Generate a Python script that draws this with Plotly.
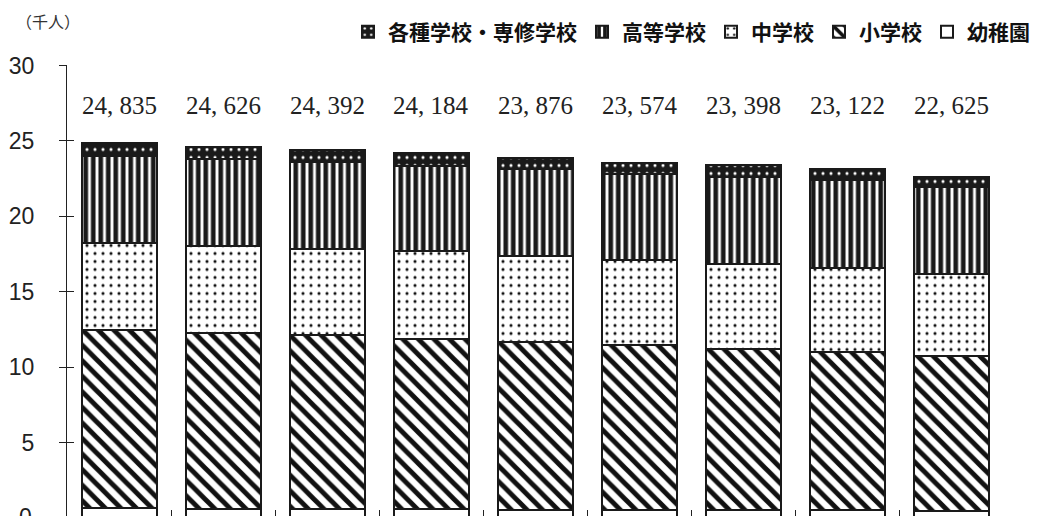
import plotly.graph_objects as go

# 9 categories (axis labels are cut off in the source, so hidden here)
categories = ["c1", "c2", "c3", "c4", "c5", "c6", "c7", "c8", "c9"]
totals = [24835, 24626, 24392, 24184, 23876, 23574, 23398, 23122, 22625]

# segment values (same unit as the y axis)
youchien = [0.65, 0.64, 0.62, 0.61, 0.58, 0.56, 0.54, 0.52, 0.50]
shogakko = [11.84, 11.65, 11.50, 11.25, 11.10, 10.91, 10.67, 10.51, 10.25]
chugakko = [5.75, 5.73, 5.72, 5.83, 5.72, 5.63, 5.65, 5.52, 5.46]
kotogakko = [5.78, 5.79, 5.75, 5.68, 5.75, 5.72, 5.75, 5.84, 5.74]
kakushu = [0.815, 0.816, 0.80, 0.81, 0.73, 0.75, 0.79, 0.73, 0.675]

y_ticks = [0, 5, 10, 15, 20, 25, 30]

# the page body adds an 8px margin, so the figure is 8px smaller than the window
W, H = 1031, 508
ML, MR, MT = 59, 35, 53
PW, PH = W - ML - MR, H - MT

line = dict(color="#1a1a1a", width=2)
tick_font = dict(family="Liberation Sans Narrow, Liberation Sans, sans-serif",
                 size=23, color="#222222")

fig = go.Figure()
fig.add_trace(go.Bar(
    x=categories, y=youchien, name="幼稚園",
    marker=dict(color="white", line=line)))
fig.add_trace(go.Bar(
    x=categories, y=shogakko, name="小学校",
    marker=dict(color="white", line=line,
                pattern=dict(shape="\\", fgcolor="#111111", bgcolor="white",
                             size=11, solidity=0.45, fillmode="replace"))))
fig.add_trace(go.Bar(
    x=categories, y=chugakko, name="中学校",
    marker=dict(color="white", line=line,
                pattern=dict(shape=".", fgcolor="#111111", bgcolor="white",
                             size=8, solidity=0.12, fillmode="replace"))))
fig.add_trace(go.Bar(
    x=categories, y=kotogakko, name="高等学校",
    marker=dict(color="#1a1a1a", line=line,
                pattern=dict(shape="|", fgcolor="#1a1a1a", bgcolor="white",
                             size=7.5, solidity=0.62, fillmode="replace"))))
fig.add_trace(go.Bar(
    x=categories, y=kakushu, name="各種学校・専修学校",
    marker=dict(color="#1a1a1a", line=line,
                pattern=dict(shape=".", fgcolor="white", bgcolor="#1a1a1a",
                             size=8, solidity=0.12, fillmode="replace"))))

# total labels
for c, t in zip(categories, totals):
    fig.add_annotation(x=c, y=0.91, xref="x", yref="paper",
                       text=f"{t:,}".replace(",", ", "), showarrow=False,
                       font=dict(family="Liberation Serif, DejaVu Serif, serif",
                                 size=25, color="#222222"),
                       yanchor="middle")

# unit label
fig.add_annotation(x=(6 - ML) / PW, y=1 + (MT - 8) / PH, xref="paper", yref="paper",
                   text="（千人）", showarrow=False, xanchor="left", yanchor="middle",
                   font=dict(family="Noto Sans CJK JP", size=16, color="#333333"))

# "0" tick label, cut off by the bottom edge as in the source
fig.add_annotation(x=0, y=0.031, xref="paper", yref="paper", text="0",
                   showarrow=False, xanchor="right", yanchor="top", xshift=-33,
                   font=tick_font)

fig.update_layout(
    width=W, height=H,
    margin=dict(l=ML, r=MR, t=MT, b=0),
    barmode="stack", bargap=0.28,
    plot_bgcolor="white", paper_bgcolor="white",
    showlegend=True,
    legend=dict(orientation="h", traceorder="reversed",
                xref="container", yref="container",
                x=340 / W, xanchor="left", y=1 - 24 / H, yanchor="middle",
                font=dict(family="Noto Sans CJK JP", size=21, color="#111111",
                          weight="bold"),
                itemwidth=30, bgcolor="rgba(0,0,0,0)"),
    xaxis=dict(type="category", showticklabels=False, showline=False,
               showgrid=False, zeroline=False, ticks="inside", ticklen=6,
               tickcolor="#222222", tickson="boundaries"),
    yaxis=dict(range=[0.15, 30], tickvals=y_ticks, ticks="outside", ticklen=7,
               tickcolor="#222222", showline=True, linecolor="#222222",
               linewidth=1, showgrid=False, zeroline=False,
               ticklabelstandoff=20, tickfont=tick_font),
    yaxis2=dict(range=[0.15, 30], tickvals=y_ticks, overlaying="y",
                ticks="inside", ticklen=7, tickcolor="#222222",
                showticklabels=False, showline=False, showgrid=False,
                zeroline=False),
)
# invisible helper to activate yaxis2 ticks
fig.add_trace(go.Scatter(x=[categories[0]], y=[None], yaxis="y2",
                         showlegend=False, hoverinfo="skip"))

fig.write_html("out.html")
